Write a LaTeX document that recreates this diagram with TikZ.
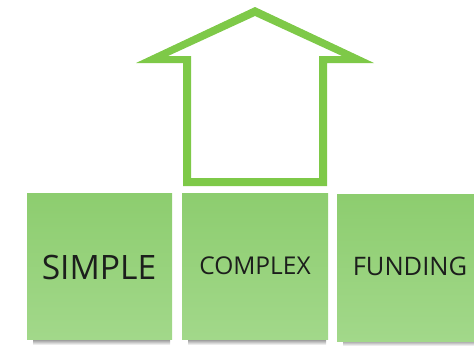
\documentclass[tikz,border=0pt]{standalone}
\usepackage{fontspec}
\setmainfont{Open Sans}
\begin{document}
\begin{tikzpicture}[x=1pt,y=-1pt,
  note/.style={draw=none,top color=notetop,bottom color=notebot,inner sep=0pt,anchor=north west},
  label/.style={text=textdark},
  shadowbar/.style={draw=none,top color=black!45,bottom color=white}]
\definecolor{notetop}{RGB}{141,205,111}
\definecolor{notebot}{RGB}{162,216,138}
\definecolor{arrowgreen}{RGB}{126,201,72}
\definecolor{textdark}{RGB}{28,30,28}
\useasboundingbox (0,0) rectangle (474,346);
% shadows
\shade[shadowbar] (33,339) rectangle (170,345);
\shade[shadowbar] (188,339) rectangle (326,345);
\shade[shadowbar] (343,340) rectangle (474,346);
% notes
\node[note,minimum width=145pt,minimum height=146pt] (simple) at (27,193) {};
\node[note,minimum width=146pt,minimum height=146pt] (complex) at (182,193) {};
\node[note,minimum width=137pt,minimum height=147pt] (funding) at (337,194) {};
\node[label,font=\fontsize{33.6}{36}\selectfont] at (99,267) {SIMPLE};
\node[label,font=\fontsize{24.5}{28}\selectfont] at (255,266) {COMPLEX};
\node[label,font=\fontsize{25.5}{28}\selectfont] at (410,266) {FUNDING};
% arrow outline
\fill[arrowgreen,even odd rule]
  (255,7) -- (374,63) -- (327,63) -- (327,186) -- (183,186) -- (183,63) -- (136,63) -- cycle
  (255,16) -- (168,56) -- (191,56) -- (191,178) -- (319,178) -- (319,56) -- (342,56) -- cycle;
\end{tikzpicture}
\end{document}
